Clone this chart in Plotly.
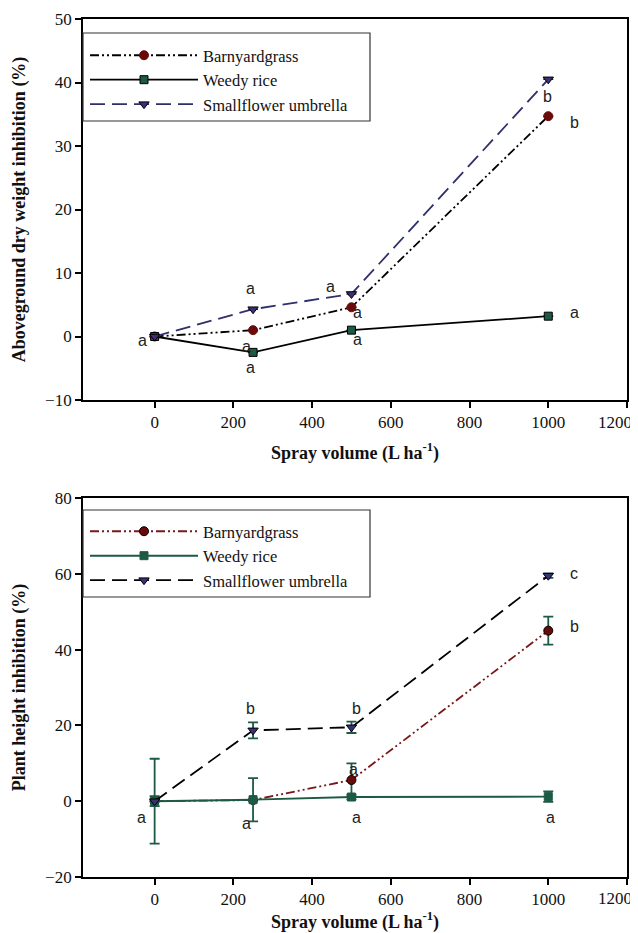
import plotly.graph_objects as go

# ---------------- data ----------------
spray = [0, 250, 500, 1000]

# top panel: aboveground dry weight inhibition (%)
dw_barnyard = [0, 1.0, 4.6, 34.7]
dw_weedy = [0, -2.5, 1.0, 3.2]
dw_small = [0, 4.3, 6.7, 40.5]

# bottom panel: plant height inhibition (%)
ph_barnyard = [0, 0.3, 5.6, 45.0]
ph_barnyard_err = [0, 0, 4.4, 3.7]
ph_weedy = [0, 0.4, 1.1, 1.2]
ph_weedy_err = [11.2, 5.7, 0.6, 1.4]
ph_small = [0, 18.7, 19.5, 59.5]
ph_small_err = [1.3, 2.1, 1.5, 0.6]

# significance letters (x, y, text)
dw_letters_x = [-30, 243, 233, 243, 448, 516, 516, 997, 1066, 1066]
dw_letters_y = [-0.6, 7.5, -1.6, -4.9, 7.9, 3.8, -0.5, 37.8, 33.7, 3.8]
dw_letters_t = ["a", "a", "a", "a", "a", "a", "a", "b", "b", "a"]

ph_letters_x = [-33, 243, 233, 514, 506, 514, 1066, 1066, 1005]
ph_letters_y = [-4.3, 24.5, -5.8, 24.5, 8.4, -4.3, 60, 46, -4.3]
ph_letters_t = ["a", "b", "a", "b", "a", "a", "c", "b", "a"]

xticks = [0, 200, 400, 600, 800, 1000, 1200]
xticklabels = ["0", "200", "400", "600", "800", "1000", "1200"]

names = ["Barnyardgrass", "Weedy rice", "Smallflower umbrella"]

# ---------------- styles ----------------
DASHDOTDOT = "9px,3px,2px,3px,2px,3px"
LONGDASH = "15px,7px"
RED = "#6a0b0b"
GREEN = "#1c5a44"
NAVY = "#2f2f6b"
PURPLE = "#3a2f78"
SERIF = "Liberation Serif, Times New Roman, serif"
SANS = "Liberation Sans, Arial, sans-serif"
TICKFONT = dict(family=SERIF, size=17, color="#111")

PH = 858.0
PW = 544.0

fig = go.Figure()

# top panel
fig.add_trace(go.Scatter(x=spray, y=dw_barnyard, name=names[0], mode="lines+markers",
                         line=dict(color="black", width=1.8, dash=DASHDOTDOT),
                         marker=dict(symbol="circle", size=9, color=RED, line=dict(color=RED, width=1)),
                         error_y=dict(type="data", array=[0, 0, 0, 0], color=RED, width=5, thickness=1.5),
                         xaxis="x", yaxis="y", legend="legend"))
fig.add_trace(go.Scatter(x=spray, y=dw_weedy, name=names[1], mode="lines+markers",
                         line=dict(color="black", width=1.8),
                         marker=dict(symbol="square", size=8, color=GREEN, line=dict(color="black", width=1)),
                         error_y=dict(type="data", array=[0, 0, 0, 0], color=RED, width=5, thickness=1.5),
                         xaxis="x", yaxis="y", legend="legend"))
fig.add_trace(go.Scatter(x=spray, y=dw_small, name=names[2], mode="lines+markers",
                         line=dict(color=NAVY, width=1.8, dash=LONGDASH),
                         marker=dict(symbol="triangle-down", size=9, color=PURPLE, line=dict(color="black", width=1)),
                         error_y=dict(type="data", array=[0, 0, 0, 0], color=RED, width=5, thickness=1.5),
                         xaxis="x", yaxis="y", legend="legend"))

# bottom panel
fig.add_trace(go.Scatter(x=spray, y=ph_barnyard, name=names[0], mode="lines+markers",
                         line=dict(color="#7a1818", width=1.8, dash=DASHDOTDOT),
                         marker=dict(symbol="circle", size=9, color=RED, line=dict(color="black", width=1)),
                         error_y=dict(type="data", array=ph_barnyard_err, color=GREEN, width=5, thickness=1.8),
                         xaxis="x2", yaxis="y2", legend="legend2"))
fig.add_trace(go.Scatter(x=spray, y=ph_weedy, name=names[1], mode="lines+markers",
                         line=dict(color=GREEN, width=1.9),
                         marker=dict(symbol="square", size=8, color=GREEN, line=dict(color=GREEN, width=1)),
                         error_y=dict(type="data", array=ph_weedy_err, color=GREEN, width=5, thickness=1.8),
                         xaxis="x2", yaxis="y2", legend="legend2"))
fig.add_trace(go.Scatter(x=spray, y=ph_small, name=names[2], mode="lines+markers",
                         line=dict(color="black", width=1.8, dash=LONGDASH),
                         marker=dict(symbol="triangle-down", size=9, color=PURPLE, line=dict(color="black", width=1)),
                         error_y=dict(type="data", array=ph_small_err, color=GREEN, width=5, thickness=1.8),
                         xaxis="x2", yaxis="y2", legend="legend2"))

annotations = []
for x, y, t in zip(dw_letters_x, dw_letters_y, dw_letters_t):
    annotations.append(dict(x=x, y=y, text=t, xref="x", yref="y", showarrow=False,
                            font=dict(family=SANS, size=16, color="#222")))
for x, y, t in zip(ph_letters_x, ph_letters_y, ph_letters_t):
    annotations.append(dict(x=x, y=y, text=t, xref="x2", yref="y2", showarrow=False,
                            font=dict(family=SANS, size=16, color="#222")))

# last x tick label sits a little left of its tick (as in the original), drawn as text
for xa, ypos in (("x", (877 - 422) / PH), ("x2", (877 - 899) / PH)):
    annotations.append(dict(x=xticks[-1], y=ypos, xref=xa, yref="paper", text=xticklabels[-1],
                            showarrow=False, xanchor="center", yanchor="middle",
                            xshift=-12, font=dict(family=SERIF, size=17, color="#111")))

# legend boxes (page pixel positions converted to paper fractions of the plot area)
shapes = [
    dict(type="rect", xref="paper", yref="paper", x0=0, x1=287 / PW, y0=(877 - 121) / PH,
         y1=(877 - 33) / PH, line=dict(color="#333", width=1.2), fillcolor="rgba(0,0,0,0)"),
    dict(type="rect", xref="paper", yref="paper", x0=0, x1=287 / PW, y0=(877 - 597) / PH,
         y1=(877 - 510) / PH, line=dict(color="#333", width=1.2), fillcolor="rgba(0,0,0,0)"),
]

axis_common = dict(showline=True, linecolor="black", linewidth=1.8, mirror=True,
                   ticks="outside", ticklen=6, tickwidth=1.5, tickcolor="black",
                   showgrid=False, zeroline=False, automargin=False,
                   tickfont=TICKFONT)

xtitle = dict(text="<b>Spray volume (L ha<sup>-1</sup>)</b>", font=dict(family=SERIF, size=18, color="#111"))

legend_common = dict(xanchor="left", yanchor="top", bgcolor="rgba(0,0,0,0)",
                     borderwidth=0, font=dict(family=SERIF, size=16.5, color="#111"),
                     itemwidth=108, tracegroupgap=0)

xt_shown = xticklabels[:-1] + [" "]

# the page body adds an 8px offset, so the figure is drawn 8px smaller
fig.update_layout(
    width=630, height=925,
    margin=dict(l=75, r=11, t=11, b=56),
    paper_bgcolor="white", plot_bgcolor="white",
    showlegend=True,
    xaxis=dict(domain=[0, 1], range=[-182, 1200], tickvals=xticks, ticktext=xt_shown, anchor="y",
               title=xtitle, **axis_common),
    yaxis=dict(domain=[(877 - 400) / PH, 1], range=[-10, 50], dtick=10, anchor="x",
               title=dict(text="<b>Aboveground dry weight inhibition (%)</b>",
                          font=dict(family=SERIF, size=18, color="#111")),
               **axis_common),
    xaxis2=dict(domain=[0, 1], range=[-182, 1200], tickvals=xticks, ticktext=xt_shown, anchor="y2",
                title=xtitle, **axis_common),
    yaxis2=dict(domain=[0, (877 - 498) / PH], range=[-20, 80], dtick=20, anchor="x2",
                title=dict(text="<b>Plant height inhibition (%)</b>",
                           font=dict(family=SERIF, size=18, color="#111")),
                **axis_common),
    legend=dict(x=2 / PW, y=(877 - 38) / PH, **legend_common),
    legend2=dict(x=2 / PW, y=(877 - 514) / PH, **legend_common),
    annotations=annotations,
    shapes=shapes,
)

fig.write_html("out.html")
